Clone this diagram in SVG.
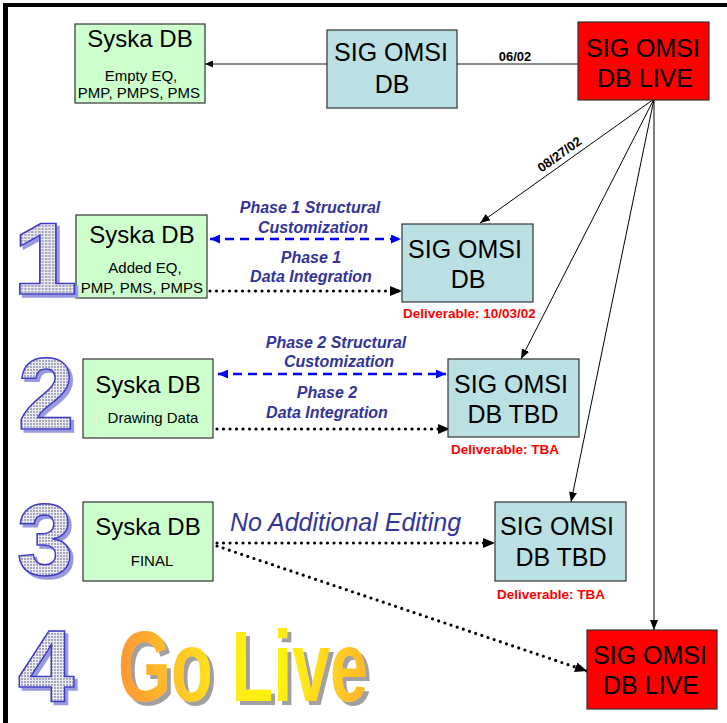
<svg xmlns="http://www.w3.org/2000/svg" width="727" height="723" viewBox="0 0 727 723">
<style>
.bg{fill:#FFFFFF}
.green{fill:#CCFFCC;stroke:#333333;stroke-width:1.2}
.cyan{fill:#BBE0E3;stroke:#333333;stroke-width:1.2}
.red{fill:#FF0000;stroke:#333333;stroke-width:1.2}
.t{font-family:"Liberation Sans",Arial,sans-serif;fill:#000000;text-anchor:middle}
.big{font-size:25px}
.sy{font-size:24px}
.sm{font-size:15px}
.ph{font-family:"Liberation Sans",Arial,sans-serif;font-weight:bold;font-style:italic;font-size:16px;fill:#333399;text-anchor:middle}
.deliv{font-family:"Liberation Sans",Arial,sans-serif;font-weight:bold;font-size:13.5px;fill:#FF0000}
.date{font-family:"Liberation Sans",Arial,sans-serif;font-weight:bold;font-size:13px;fill:#000000;text-anchor:middle}
.fan{stroke:#000000;stroke-width:1;fill:none;marker-end:url(#arrBlack)}
.grey{stroke:#666666;stroke-width:1.5;fill:none}
.blue{stroke:#0000FF;stroke-width:2.5;stroke-dasharray:9 6;fill:none;marker-start:url(#arrBlue);marker-end:url(#arrBlue)}
.dot{stroke:#000000;stroke-width:3.2;stroke-linecap:round;stroke-dasharray:0 6.5;fill:none;marker-end:url(#arrDot)}
.digit{font-family:"Liberation Sans",Arial,sans-serif;font-weight:bold;font-size:102px;text-anchor:middle;fill:url(#grid);stroke:#3B3BC8;stroke-width:1.5;filter:url(#dsh)}
.golive{font-family:"Liberation Sans",Arial,sans-serif;font-weight:bold;font-size:100px;fill:url(#gold);filter:url(#gsh)}
</style>
<defs>
<marker id="arrBlack" markerUnits="userSpaceOnUse" markerWidth="10" markerHeight="8" refX="10" refY="4" orient="auto"><path d="M0,0 L10,4 L0,8 z" fill="#000000"/></marker>
<marker id="arrSmall" markerUnits="userSpaceOnUse" markerWidth="8" markerHeight="7" refX="8" refY="3.5" orient="auto"><path d="M0,0 L8,3.5 L0,7 z" fill="#000000"/></marker>
<marker id="arrBlue" markerUnits="userSpaceOnUse" markerWidth="10" markerHeight="9" refX="10" refY="4.5" orient="auto-start-reverse"><path d="M0,0 L10,4.5 L0,9 z" fill="#0000FF"/></marker>
<marker id="arrDot" markerUnits="userSpaceOnUse" markerWidth="12" markerHeight="10" refX="12" refY="5" orient="auto"><path d="M0,0 L12,5 L0,10 z" fill="#000000"/></marker>
<pattern id="grid" patternUnits="userSpaceOnUse" width="3" height="3"><rect width="3" height="3" fill="#ECECF4"/><rect width="2" height="2" fill="#A8A8BC"/></pattern>
<radialGradient id="gold" gradientUnits="userSpaceOnUse" cx="262" cy="666" r="140"><stop offset="0" stop-color="#FFFF00"/><stop offset="0.35" stop-color="#FFE41C"/><stop offset="1" stop-color="#FF9933"/></radialGradient>
<filter id="dsh" x="-20%" y="-20%" width="150%" height="150%"><feOffset in="SourceAlpha" dx="3" dy="3" result="o"/><feFlood flood-color="#9999E0"/><feComposite in2="o" operator="in" result="s"/><feMerge><feMergeNode in="s"/><feMergeNode in="SourceGraphic"/></feMerge></filter>
<filter id="gsh" x="-10%" y="-10%" width="130%" height="130%"><feOffset in="SourceAlpha" dx="4" dy="4" result="o"/><feFlood flood-color="#A0A0A0"/><feComposite in2="o" operator="in" result="s"/><feMerge><feMergeNode in="s"/><feMergeNode in="SourceGraphic"/></feMerge></filter>
</defs>
<rect class="bg" x="0" y="0" width="727" height="723"/>
<g id="frame"><rect x="3" y="3" width="724" height="4" fill="#000000"/><rect x="3" y="3" width="5" height="720" fill="#000000"/></g>

<g id="connectors">
<line class="grey" x1="327" y1="64" x2="205" y2="64" marker-end="url(#arrSmall)"/>
<line class="grey" x1="457" y1="64" x2="578" y2="64"/>
<text class="date" x="515" y="61">06/02</text>
<line class="fan" x1="654" y1="99" x2="480" y2="223"/>
<line class="fan" x1="654" y1="99" x2="521" y2="359"/>
<line class="fan" x1="654" y1="99" x2="571" y2="502"/>
<line class="fan" x1="654" y1="99" x2="654" y2="630"/>
<text class="date" transform="translate(562,158) rotate(-35.8)">08/27/02</text>
<line class="blue" x1="210" y1="239" x2="401" y2="239"/>
<line class="dot" x1="210" y1="291" x2="402" y2="291"/>
<line class="blue" x1="218" y1="374" x2="446" y2="374"/>
<line class="dot" x1="217" y1="429" x2="450" y2="429"/>
<line class="dot" x1="217" y1="543" x2="495" y2="543"/>
<line class="dot" x1="217" y1="546" x2="587" y2="671"/>
</g>

<g id="labels">
<text class="ph" x="310" y="213">Phase 1 Structural</text>
<text class="ph" x="313" y="233">Customization</text>
<text class="ph" x="311" y="263">Phase 1</text>
<text class="ph" x="311" y="282">Data Integration</text>
<text class="ph" x="336" y="348">Phase 2 Structural</text>
<text class="ph" x="339" y="367">Customization</text>
<text class="ph" x="327" y="398">Phase 2</text>
<text class="ph" x="327" y="418">Data Integration</text>
<text x="230" y="531" font-family="Liberation Sans, Arial, sans-serif" font-style="italic" font-size="25" fill="#333399">No Additional Editing</text>
<text class="deliv" x="403" y="318">Deliverable: 10/03/02</text>
<text class="deliv" x="451" y="454">Deliverable: TBA</text>
<text class="deliv" x="497" y="599">Deliverable: TBA</text>
</g>

<g id="syska-top">
<rect class="green" x="75" y="24" width="130" height="79"/>
<text class="t sy" x="140" y="47">Syska DB</text>
<text class="t sm" x="141" y="81">Empty EQ,</text>
<text class="t sm" x="139" y="98">PMP, PMPS, PMS</text>
</g>
<g id="sigomsi-top">
<rect class="cyan" x="327" y="30" width="130" height="78"/>
<text class="t big" x="391" y="61">SIG OMSI</text>
<text class="t big" x="392" y="93">DB</text>
</g>
<g id="live-top">
<rect class="red" x="578" y="22" width="131" height="78"/>
<text class="t big" x="643" y="57">SIG OMSI</text>
<text class="t big" x="645" y="87">DB LIVE</text>
</g>

<g id="syska-1">
<rect class="green" x="76" y="215" width="131" height="83"/>
<text class="t sy" x="142" y="243">Syska DB</text>
<text class="t sm" x="145" y="273">Added EQ,</text>
<text class="t sm" x="142" y="293">PMP, PMS, PMPS</text>
</g>
<g id="sigomsi-1">
<rect class="cyan" x="402" y="224" width="131" height="78"/>
<text class="t big" x="465" y="258">SIG OMSI</text>
<text class="t big" x="468" y="288">DB</text>
</g>

<g id="syska-2">
<rect class="green" x="83" y="359" width="130" height="79"/>
<text class="t sy" x="148" y="393">Syska DB</text>
<text class="t sm" x="153" y="423">Drawing Data</text>
</g>
<g id="sigomsi-2">
<rect class="cyan" x="448" y="359" width="131" height="78"/>
<text class="t big" x="511" y="393">SIG OMSI</text>
<text class="t big" x="513" y="423">DB TBD</text>
</g>

<g id="syska-3">
<rect class="green" x="83" y="502" width="130" height="79"/>
<text class="t sy" x="148" y="535">Syska DB</text>
<text class="t sm" x="152" y="566">FINAL</text>
</g>
<g id="sigomsi-3">
<rect class="cyan" x="495" y="502" width="131" height="79"/>
<text class="t big" x="557" y="535">SIG OMSI</text>
<text class="t big" x="561" y="566">DB TBD</text>
</g>

<g id="live-bottom">
<rect class="red" x="587" y="630" width="130" height="79"/>
<text class="t big" x="650" y="664">SIG OMSI</text>
<text class="t big" x="651" y="694">DB LIVE</text>
</g>

<g id="digit-1"><text class="digit" transform="translate(45,294) scale(1.15,1)">1</text></g>
<g id="digit-2"><text class="digit" x="46" y="429">2</text></g>
<g id="digit-3"><text class="digit" x="45" y="575">3</text></g>
<g id="digit-4"><text class="digit" x="46" y="701" font-size="100">4</text></g>

<g id="go-live">
<text class="golive" x="118" y="701" textLength="250" lengthAdjust="spacingAndGlyphs">Go Live</text>
</g>
</svg>
